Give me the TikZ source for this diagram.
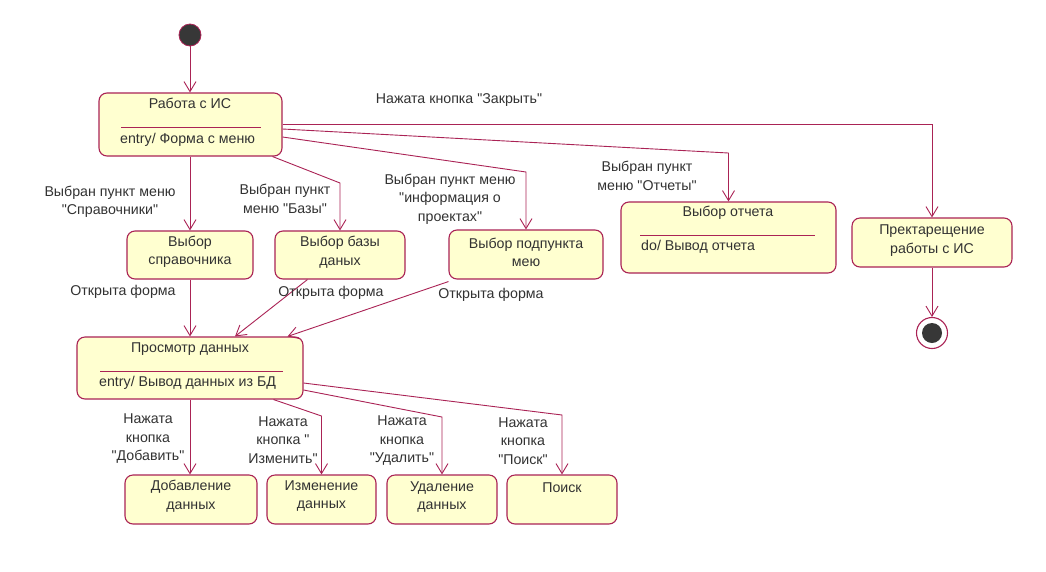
\documentclass[tikz,border=0pt]{standalone}
\usepackage{fontspec}
\setmainfont{Liberation Sans}[Ligatures=TeXOff]
\usetikzlibrary{arrows.meta,calc}
\definecolor{bordc}{RGB}{170,35,85}
\definecolor{fillc}{RGB}{255,255,208}
\definecolor{txtc}{RGB}{50,50,50}
\definecolor{dotc}{RGB}{55,55,55}
\newcommand{\dfs}{\fontsize{14.2}{18.5}\selectfont}
\begin{document}
\begin{tikzpicture}[x=1pt,y=-1pt,
  state/.style={draw=bordc, fill=fillc, rounded corners=8pt, line width=1.1pt, inner sep=0pt},
  txt/.style={text=txtc, align=center, font=\dfs, inner sep=0pt},
  arr/.style={draw=bordc, line width=0.9pt, -{Straight Barb[length=10pt,width=12pt,line width=0.9pt]}},
  sep/.style={draw=bordc, line width=1pt}]
\useasboundingbox[fill=white] (0,0) rectangle (1046,571);

% states
\node[circle, fill=dotc, draw=bordc, line width=0.8pt, minimum size=22pt, inner sep=0pt] (init) at (190,35) {};
\node[state, minimum width=183pt, minimum height=63pt] (rab) at (190.5,124.5) {};
\node[state, minimum width=126pt, minimum height=48pt] (spr) at (190,255) {};
\node[state, minimum width=130pt, minimum height=48pt] (baz) at (340,255) {};
\node[state, minimum width=154pt, minimum height=49pt] (podp) at (526,254.5) {};
\node[state, minimum width=215pt, minimum height=71pt] (otch) at (728.5,237.5) {};
\node[state, minimum width=160pt, minimum height=49pt] (prek) at (932,242.5) {};
\node[circle, draw=bordc, fill=white, line width=1.1pt, minimum size=31pt, inner sep=0pt] (fin) at (932,333) {};
\node[circle, fill=dotc, minimum size=20pt, inner sep=0pt] (finin) at (fin.center) {};
\node[state, minimum width=226pt, minimum height=62pt] (pros) at (190,368) {};
\node[state, minimum width=132pt, minimum height=49pt] (dob) at (191,499.5) {};
\node[state, minimum width=109pt, minimum height=49pt] (izm) at (321.5,499.5) {};
\node[state, minimum width=110pt, minimum height=49pt] (udal) at (442,499.5) {};
\node[state, minimum width=110pt, minimum height=49pt] (poisk) at (562,499.5) {};

% state texts
\node[txt] (rabT) at (190,103) {Работа с ИС};
\draw[sep] (121,127) -- (261,127);
\node[txt, anchor=west] (rabE) at (120,140) {entry/ Форма с меню};
\node[txt] (sprT) at (190,252) {Выбор\\справочника};
\node[txt] (bazT) at (340,252) {Выбор базы\\даных};
\node[txt] (podpT) at (526,252.5) {Выбор подпункта\\мею};
\node[txt] (otchT) at (728,213) {Выбор отчета};
\draw[sep] (640,235) -- (815,235);
\node[txt, anchor=west] (otchE) at (641,247) {do/ Вывод отчета};
\node[txt] (prekT) at (932,240.5) {Пректарещение\\работы с ИС};
\node[txt] (prosT) at (190,349) {Просмотр данных};
\draw[sep] (100,371) -- (283,371);
\node[txt, anchor=west] (prosE) at (99,383) {entry/ Вывод данных из БД};
\node[txt] (dobT) at (191,496) {Добавление\\данных};
\node[txt] (izmT) at (321.5,496) {Изменение\\данных};
\node[txt] (udalT) at (442,497) {Удаление\\данных};
\node[txt] (poiskT) at (562,488) {Поиск};

% bend points
\coordinate (k2) at (728.5,153);
\coordinate (k3) at (526,172);
\coordinate (k4) at (340,183);
\coordinate (k5) at (321.5,416);
\coordinate (k6) at (442,417);
\coordinate (k7) at (562,415);

% transitions
\draw[arr] (init.south) -- (init.south |- rab.north);
\draw[arr] (rab.east) -| (prek.north);
\draw[arr] ($(rab.east)+(0,4.5)$) -- (k2) -- (otch.north);
\draw[arr] ($(rab.east)+(0,12.5)$) -- (k3) -- (podp.north);
\draw[arr] ($(rab.south east)+(-10,0)$) -- (k4) -- (baz.north);
\draw[arr] (rab.south -| spr.north) -- (spr.north);
\draw[arr] (spr.south) -- (spr.south |- pros.north);
\draw[arr] ($(baz.south west)+(33,0)$) -- ($(pros.north)+(45,0)$);
\draw[arr] ($(podp.south west)+(0,2)$) -- ($(pros.north east)+(-16,0)$);
\draw[arr] (prek.south) -- (fin.north);
\draw[arr] (pros.south) -- (pros.south |- dob.north);
\draw[arr] ($(pros.south east)+(-30,0)$) -- (k5) -- (izm.north);
\draw[arr] ($(pros.east)+(0,22)$) -- (k6) -- (udal.north);
\draw[arr] ($(pros.east)+(0,15)$) -- (k7) -- (poisk.north);

% transition labels
\node[txt] (lZakr) at (459,100) {Нажата кнопка "Закрыть"};
\node[txt] (lSpr) at (110,202) {Выбран пункт меню\\"Справочники"};
\node[txt] (lBaz) at (285,199) {Выбран пункт\\меню "Базы"};
\node[txt] (lPodp) at (450,199) {Выбран пункт меню\\"информация о\\проектах"};
\node[txt] (lOtch) at (647,176) {Выбран пункт\\меню "Отчеты"};
\node[txt] (lF1) at (123,292) {Открыта форма};
\node[txt] (lF2) at (331,293) {Открыта форма};
\node[txt] (lF3) at (491,295) {Открыта форма};
\node[txt] (lDob) at (148,439) {Нажата\\кнопка\\"Добавить"};
\node[txt] (lIzm) at (283,440) {Нажата\\кнопка "\\Изменить"};
\node[txt] (lUdal) at (402,441) {Нажата\\кнопка\\"Удалить"};
\node[txt] (lPoisk) at (523,441) {Нажата\\кнопка\\"Поиск"};
\end{tikzpicture}
\end{document}
